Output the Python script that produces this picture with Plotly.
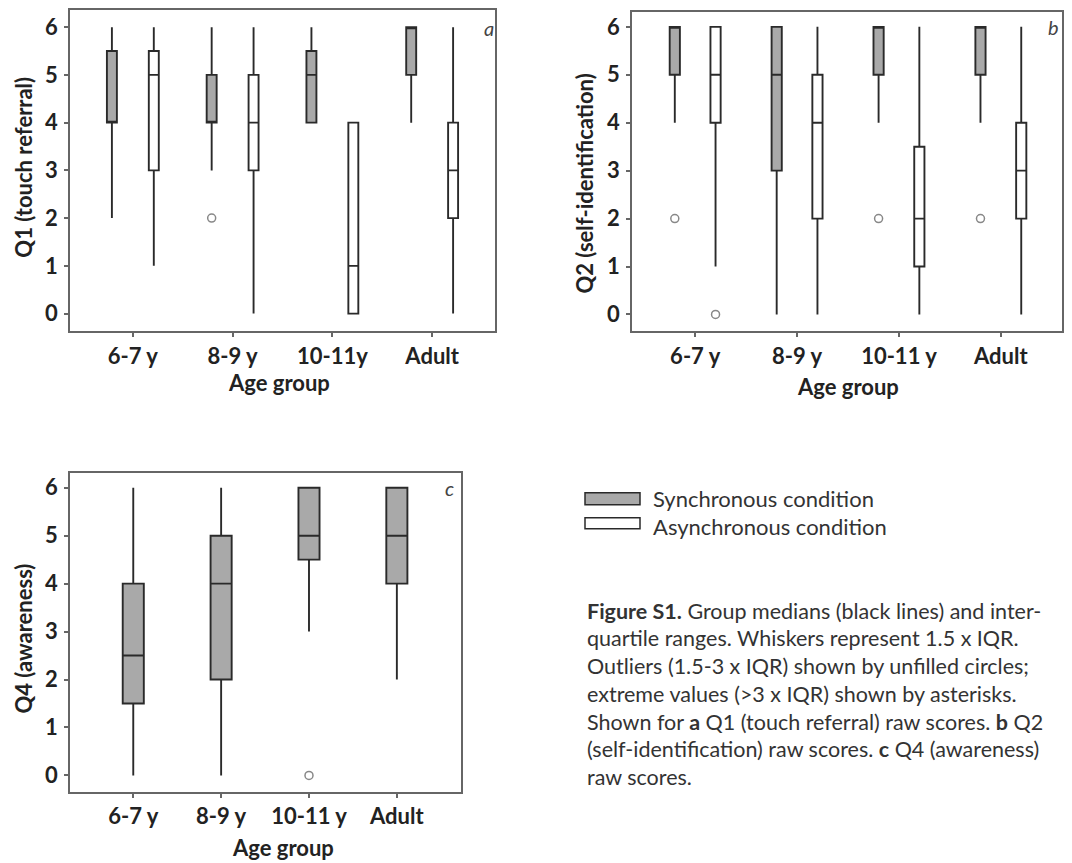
import plotly.graph_objects as go

# page body has an 8px default margin; figure is sized to fill the rest
OX, OY = 8, 8
W, H = 1064, 855

groups = ["6-7 y", "8-9 y", "10-11 y", "Adult"]
groups_a = ["6-7 y", "8-9 y", "10-11y", "Adult"]

# Panel a: Q1 (touch referral)
a_sync_min = [2, 3, 4, 4]
a_sync_q1 = [4, 4, 4, 5]
a_sync_med = [4, 4, 5, 6]
a_sync_q3 = [5.5, 5, 5.5, 6]
a_sync_max = [6, 6, 6, 6]
a_async_min = [1, 0, 0, 0]
a_async_q1 = [3, 3, 0, 2]
a_async_med = [5, 4, 1, 3]
a_async_q3 = [5.5, 5, 4, 4]
a_async_max = [6, 6, 4, 6]
a_sync_out_grp = [1]
a_sync_out_val = [2]

# Panel b: Q2 (self-identification)
b_sync_min = [4, 0, 4, 4]
b_sync_q1 = [5, 3, 5, 5]
b_sync_med = [6, 5, 6, 6]
b_sync_q3 = [6, 6, 6, 6]
b_sync_max = [6, 6, 6, 6]
b_async_min = [1, 0, 0, 0]
b_async_q1 = [4, 2, 1, 2]
b_async_med = [5, 4, 2, 3]
b_async_q3 = [6, 5, 3.5, 4]
b_async_max = [6, 6, 6, 6]
b_sync_out_grp = [0, 2, 3]
b_sync_out_val = [2, 2, 2]
b_async_out_grp = [0]
b_async_out_val = [0]

# Panel c: Q4 (awareness), synchronous only
c_sync_min = [0, 0, 3, 2]
c_sync_q1 = [1.5, 2, 4.5, 4]
c_sync_med = [2.5, 4, 5, 5]
c_sync_q3 = [4, 5, 6, 6]
c_sync_max = [6, 6, 6, 6]
c_sync_out_grp = [2]
c_sync_out_val = [0]

GRAY = "#a9a9a9"
LINE = "#2a2a2a"
FRAME = "#666666"
FONT = "Lato"
FS = 22

fig = go.Figure()

def PX(x):
    return (x - OX) / W

def PY(y):
    return 1 - (y - OY) / H

def px_dom_x(x0, x1):
    return [PX(x0), PX(x1)]

def px_dom_y(y0, y1):
    return [PY(y1), PY(y0)]

def add_box(xaxis, yaxis, pos, mn, q1, med, q3, mx, fill, width):
    fig.add_trace(go.Box(
        x=pos, q1=q1, median=med, q3=q3, lowerfence=mn, upperfence=mx,
        fillcolor=fill, line=dict(color=LINE, width=1.9), width=width,
        whiskerwidth=0, boxpoints=False, hoverinfo="skip",
        xaxis=xaxis, yaxis=yaxis, showlegend=False))

def add_out(xaxis, yaxis, pos, vals):
    fig.add_trace(go.Scatter(
        x=pos, y=vals, mode="markers",
        marker=dict(symbol="circle-open", size=8, color="#888888", line=dict(width=1.5)),
        xaxis=xaxis, yaxis=yaxis, showlegend=False, hoverinfo="skip"))

off = 0.21
idx = list(range(4))

# Panel a
add_box("x", "y", [i - off for i in idx], a_sync_min, a_sync_q1, a_sync_med, a_sync_q3, a_sync_max, GRAY, 0.1)
add_box("x", "y", [i + off for i in idx], a_async_min, a_async_q1, a_async_med, a_async_q3, a_async_max, "white", 0.1)
add_out("x", "y", [g - off for g in a_sync_out_grp], a_sync_out_val)

# Panel b
add_box("x2", "y2", [i - 0.2 for i in idx], b_sync_min, b_sync_q1, b_sync_med, b_sync_q3, b_sync_max, GRAY, 0.1)
add_box("x2", "y2", [i + 0.2 for i in idx], b_async_min, b_async_q1, b_async_med, b_async_q3, b_async_max, "white", 0.1)
add_out("x2", "y2", [g - 0.2 for g in b_sync_out_grp], b_sync_out_val)
add_out("x2", "y2", [g + 0.2 for g in b_async_out_grp], b_async_out_val)

# Panel c
add_box("x3", "y3", idx, c_sync_min, c_sync_q1, c_sync_med, c_sync_q3, c_sync_max, GRAY, 0.24)
add_out("x3", "y3", c_sync_out_grp, c_sync_out_val)

tickfont = dict(family=FONT, size=FS, color="#222222", weight="bold")

def xax(domain, rng, labels):
    return dict(domain=domain, range=rng, tickvals=idx, ticktext=labels,
                showline=True, mirror=True, linecolor=FRAME, linewidth=1.8,
                ticks="outside", ticklen=4, tickcolor=FRAME, tickwidth=1.5,
                showgrid=False, zeroline=False, tickfont=tickfont,
                ticklabelstandoff=0, fixedrange=True)

def yax(domain, rng):
    return dict(domain=domain, range=rng, tickvals=[0, 1, 2, 3, 4, 5, 6],
                showline=True, mirror=True, linecolor=FRAME, linewidth=1.8,
                ticks="outside", ticklen=4, tickcolor=FRAME, tickwidth=1.5,
                showgrid=False, zeroline=False, tickfont=tickfont,
                ticklabelstandoff=2, fixedrange=True)

fig.update_layout(
    width=W, height=H,
    margin=dict(l=0, r=0, t=0, b=0),
    paper_bgcolor="white", plot_bgcolor="white",
    xaxis=dict(xax(px_dom_x(70, 495), [-0.63, 3.63], groups_a), anchor="y"),
    yaxis=dict(yax(px_dom_y(8, 330), [-0.37, 6.36]), anchor="x"),
    xaxis2=dict(xax(px_dom_x(632, 1062), [-0.62, 3.6], groups), anchor="y2"),
    yaxis2=dict(yax(px_dom_y(10, 330), [-0.35, 6.31]), anchor="x2"),
    xaxis3=dict(xax(px_dom_x(70, 461), [-0.72, 3.73], groups), anchor="y3"),
    yaxis3=dict(yax(px_dom_y(472, 792), [-0.35, 6.31]), anchor="x3"),
)

ann = []
def text(x, y, s, size=FS, bold=True, angle=0, xanchor="center", italic=False, color="#222222"):
    f = dict(family=FONT, size=size, color=color)
    if bold:
        f["weight"] = "bold"
    if italic:
        f["style"] = "italic"
    ann.append(dict(x=PX(x), y=PY(y), xref="paper", yref="paper", text=s,
                    showarrow=False, font=f, textangle=angle,
                    xanchor=xanchor, yanchor="middle"))

# axis titles
text(24, 166, "Q1 (touch referral)", angle=-90)
text(585, 182, "Q2 (self-identification)", angle=-90)
text(24, 638, "Q4 (awareness)", angle=-90)
text(279, 381, "Age group")
text(848, 385, "Age group")
text(283, 847, "Age group")

# panel letters
text(489, 26, "a", size=20, bold=False, italic=True, color="#444444")
text(1053, 25, "b", size=20, bold=False, italic=True, color="#444444")
text(449, 487, "c", size=20, bold=False, italic=True, color="#444444")

# legend
shapes = [
    dict(type="rect", xref="paper", yref="paper", x0=PX(585), x1=PX(640),
         y0=PY(504), y1=PY(492), fillcolor=GRAY, line=dict(color=LINE, width=1.5)),
    dict(type="rect", xref="paper", yref="paper", x0=PX(585), x1=PX(640),
         y0=PY(528), y1=PY(517), fillcolor="white", line=dict(color=LINE, width=1.5)),
]
text(651, 498, "Synchronous condition", size=FS, bold=False, xanchor="left", color="#333333")
text(651, 526, "Asynchronous condition", size=FS, bold=False, xanchor="left", color="#333333")

caption = [
    "<b>Figure S1.</b> Group medians (black lines) and inter-",
    "quartile ranges. Whiskers represent 1.5 x IQR.",
    "Outliers (1.5-3 x IQR) shown by unfilled circles;",
    "extreme values (>3 x IQR) shown by asterisks.",
    "Shown for <b>a</b> Q1 (touch referral) raw scores. <b>b</b> Q2",
    "(self-identification) raw scores. <b>c</b> Q4 (awareness)",
    "raw scores.",
]
for i, line in enumerate(caption):
    text(585, 610 + i * 27.8, line, size=21.5, bold=False, xanchor="left", color="#333333")

fig.update_layout(annotations=ann, shapes=shapes)
fig.write_html("out.html")
